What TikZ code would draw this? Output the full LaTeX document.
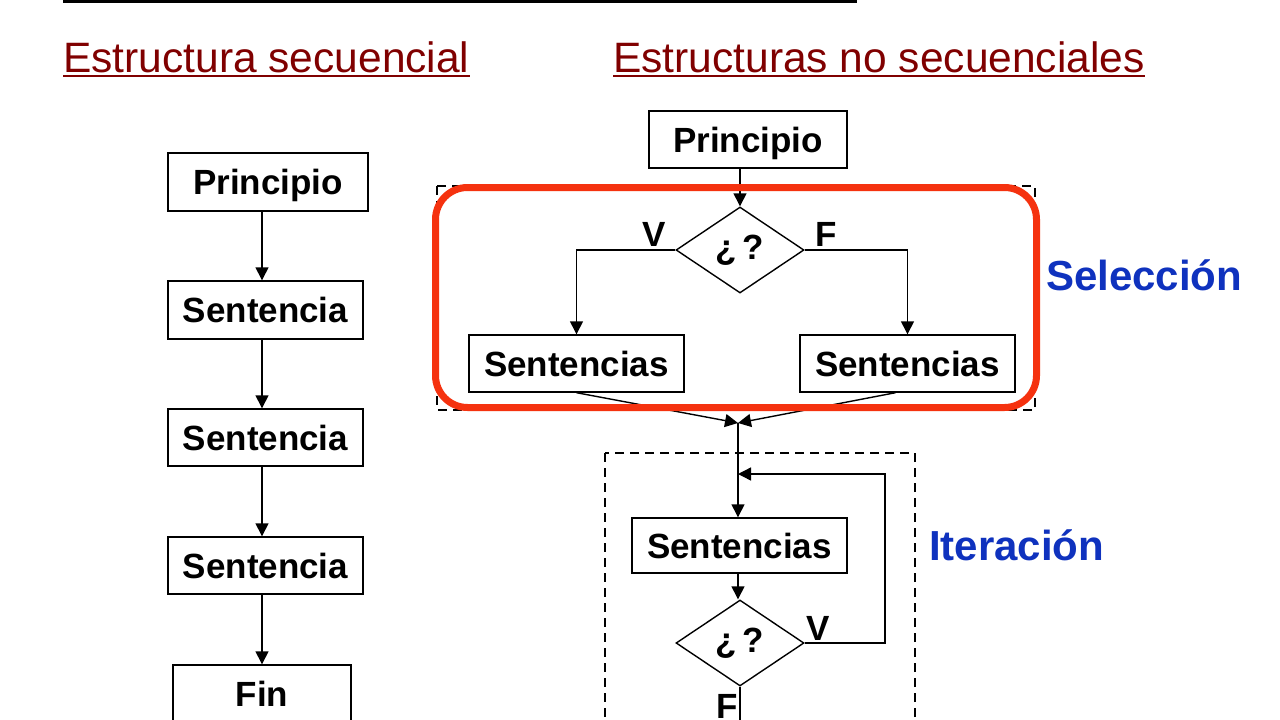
\documentclass[tikz,border=0pt]{standalone}
\usepackage{fontspec}
\setmainfont{Liberation Sans}
\usepackage{tikz}
\usetikzlibrary{arrows.meta,shapes.geometric}
\usepackage{xcolor}
\definecolor{titulo}{RGB}{128,0,0}
\definecolor{azul}{RGB}{15,50,190}
\definecolor{rojo}{RGB}{245,50,15}
\tikzset{
  caja/.style={draw,line width=1.4pt,inner sep=0pt,text height=25pt,text depth=0pt,font=\fontsize{35}{40}\selectfont\bfseries},
  rombo/.style={draw,diamond,line width=1.4pt,inner sep=0pt,minimum width=128pt,minimum height=86pt,font=\fontsize{35}{40}\selectfont\bfseries},
  etiq/.style={inner sep=0pt,font=\fontsize{35}{40}\selectfont\bfseries},
  flecha/.style={->,line width=1.4pt},
  tit/.style={inner sep=0pt,anchor=base west,text=titulo,font=\fontsize{42.5}{48}\selectfont},
  nombre/.style={inner sep=0pt,anchor=base west,text=azul,font=\fontsize{42}{48}\selectfont\bfseries},
  marco/.style={draw,dash pattern=on 9pt off 6pt,line width=2pt}
}

\begin{document}
\begin{tikzpicture}[x=1pt,y=-1pt,>={Triangle[length=13pt,width=13pt]},line cap=butt]
\useasboundingbox (0,0) rectangle (1280,720);
\clip (0,0) rectangle (1280,720);
\fill[white] (0,0) rectangle (1280,720);
\draw[line width=3pt] (63,1) -- (857,1);
% titulos
\node[tit] (t1) at (63,72) {Estructura secuencial};
\node[tit] (t2) at (613,72) {Estructuras no secuenciales};
\draw[titulo,line width=1.6pt] ([yshift=-4pt]t1.base west) -- ([yshift=-4pt]t1.base east);
\draw[titulo,line width=1.6pt] ([yshift=-4pt]t2.base west) -- ([yshift=-4pt]t2.base east);
% secuencial
\node[caja,minimum width=200pt,minimum height=58pt] (pri1) at (268,182) {Principio};
\node[caja,minimum width=195pt,minimum height=58pt] (sen1) at (265.5,310) {Sentencia};
\node[caja,minimum width=195pt,minimum height=57pt] (sen2) at (265.5,437.5) {Sentencia};
\node[caja,minimum width=195pt,minimum height=57pt] (sen3) at (265.5,565.5) {Sentencia};
\node[caja,minimum width=178pt,minimum height=58pt] (fin) at (262,694) {Fin};
\draw[flecha] (pri1.south -| fin) -- (sen1.north -| fin);
\draw[flecha] (sen1.south -| fin) -- (sen2.north -| fin);
\draw[flecha] (sen2.south -| fin) -- (sen3.north -| fin);
\draw[flecha] (sen3.south -| fin) -- (fin.north);
% seleccion
\draw[marco] (437,186) rectangle (1035,410);
\node[caja,minimum width=198pt,minimum height=57pt] (pri2) at (748,139.5) {Principio};
\node[rombo] (dec1) at (740,250) {¿\,?};
\draw[flecha] (pri2.south -| dec1) -- (dec1.north);
\node[etiq] (v1) at (654,234) {V};
\node[etiq] (f1) at (826,234) {F};
\node[caja,minimum width=215pt,minimum height=57pt] (sl) at (576.5,363.5) {Sentencias};
\node[caja,minimum width=215pt,minimum height=57pt] (sr) at (907.5,363.5) {Sentencias};
\draw[flecha] (dec1.west) -| (sl.north);
\draw[flecha] (dec1.east) -| (sr.north);
\coordinate (junta) at (738,423);
\draw[flecha] (sl.south) -- (junta);
\draw[flecha] ([xshift=-12pt]sr.south) -- (junta);
\draw[rojo,line width=7pt,rounded corners=32pt] (435.5,187.5) rectangle (1036.5,407.5);
\node[nombre] (sel) at (1046,290) {Selección};
% iteracion
\draw[marco] (605,453) rectangle (915,760);
\node[caja,minimum width=215pt,minimum height=55pt] (it) at (739.5,545.5) {Sentencias};
\draw[flecha] (junta) -- (junta |- it.north);
\node[rombo] (dec2) at (740,643) {¿\,?};
\draw[flecha] (it.south -| junta) -- (dec2.north -| junta);
\coordinate (esq) at (885,474);
\draw[flecha] (dec2.east) -| (esq) -- (junta |- esq);
\node[etiq] (v2) at (818,628) {V};
\node[etiq] (f2) at (727,706) {F};
\coordinate (salida) at (740,760);
\draw[line width=1.4pt] (dec2.south) -- (salida);
\node[nombre] (ite) at (929,560) {Iteración};
\end{tikzpicture}
\end{document}
